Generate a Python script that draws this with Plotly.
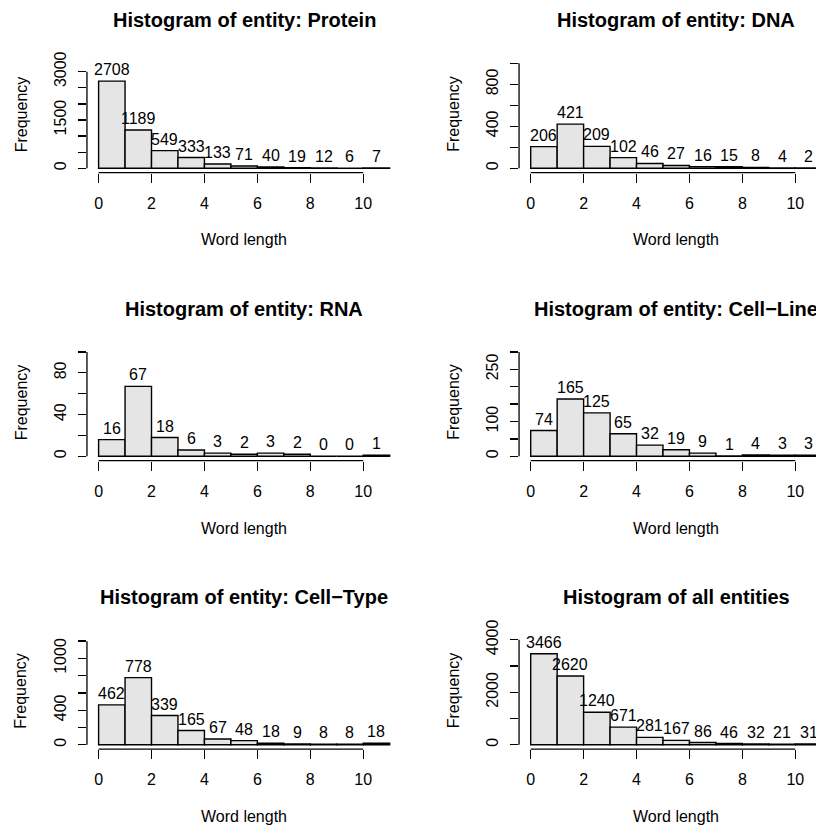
import plotly.graph_objects as go

# ---------------- data ----------------
bin_centers = [0.5, 1.5, 2.5, 3.5, 4.5, 5.5, 6.5, 7.5, 8.5, 9.5, 10.5]
x_tick_vals = [0, 2, 4, 6, 8, 10]
x_tick_text = ["0", "2", "4", "6", "8", "10"]

titles = [
    "Histogram of entity: Protein",
    "Histogram of entity: DNA",
    "Histogram of entity: RNA",
    "Histogram of entity: Cell\u2212Line",
    "Histogram of entity: Cell\u2212Type",
    "Histogram of all entities",
]

counts_protein = [2708, 1189, 549, 333, 133, 71, 40, 19, 12, 6, 7]
counts_dna = [206, 421, 209, 102, 46, 27, 16, 15, 8, 4, 2]
counts_rna = [16, 67, 18, 6, 3, 2, 3, 2, 0, 0, 1]
counts_cell_line = [74, 165, 125, 65, 32, 19, 9, 1, 4, 3, 3]
counts_cell_type = [462, 778, 339, 165, 67, 48, 18, 9, 8, 8, 18]
counts_all = [3466, 2620, 1240, 671, 281, 167, 86, 46, 32, 21, 31]
all_counts = [counts_protein, counts_dna, counts_rna, counts_cell_line, counts_cell_type, counts_all]

y_tick_vals = [
    [0, 500, 1000, 1500, 2000, 2500, 3000],
    [0, 200, 400, 600, 800, 1000],
    [0, 20, 40, 60, 80, 100],
    [0, 50, 100, 150, 200, 250, 300],
    [0, 200, 400, 600, 800, 1000, 1200],
    [0, 1000, 2000, 3000, 4000],
]
y_tick_text = [
    ["0", "", "", "1500", "", "", "3000"],
    ["0", "", "400", "", "800", ""],
    ["0", "", "40", "", "80", ""],
    ["0", "", "100", "", "", "250", ""],
    ["0", "", "400", "", "", "1000", ""],
    ["0", "", "2000", "", "4000"],
]
# upper y limit of each panel (R ylim[2])
ylim_top = [3354, 1029, 103.5, 310.6, 1250, 4114]

# ---------------- layout geometry ----------------
W, H = 816, 826
PPU = 26.46                     # pixels per x unit
col_zero_px = [98.6, 530.7]     # pixel x of value 0
row_bottom_px = [172.6, 460.6, 749.1]  # pixel y of plot-region bottom
REGION_H = 116.6
ROW_STEP = 288.5
FONT = "Liberation Sans, Arial, sans-serif"
BASE = 16

fig = go.Figure()
layout = dict(
    width=W, height=H, autosize=False,
    margin=dict(l=0, r=0, t=0, b=0, pad=0, autoexpand=False),
    paper_bgcolor="white", plot_bgcolor="white",
    showlegend=False,
    font=dict(family=FONT, size=BASE, color="black"),
    shapes=[], annotations=[],
)

for i in range(6):
    r, c = divmod(i, 2)
    n = i + 1
    xs = "" if n == 1 else str(n)
    z = col_zero_px[c]
    left_px = z - 0.44 * PPU
    right_px = min(z + 11.44 * PPU, W)
    xr = [-0.44, (right_px - z) / PPU]
    bot_px = row_bottom_px[r]
    top_px = bot_px - REGION_H
    yt = ylim_top[i]
    yr = [-0.04 * yt, 1.04 * yt]

    fig.add_trace(go.Bar(
        x=bin_centers, y=all_counts[i], width=1,
        marker=dict(color="#E5E5E5", line=dict(color="black", width=1.4)),
        xaxis="x" + xs, yaxis="y" + xs, hoverinfo="skip",
    ))

    layout["xaxis" + xs] = dict(
        domain=[left_px / W, right_px / W], range=xr, anchor="y" + xs,
        showgrid=False, zeroline=False, showline=False, automargin=False,
        ticks="outside", ticklen=9, tickwidth=1.3, tickcolor="black",
        tickvals=x_tick_vals, ticktext=x_tick_text,
        tickfont=dict(size=BASE, family=FONT, color="black"),
        ticklabelstandoff=7, fixedrange=True,
    )
    layout["yaxis" + xs] = dict(
        domain=[1 - bot_px / H, 1 - top_px / H], range=yr, anchor="x" + xs,
        showgrid=False, zeroline=False, showline=False, automargin=False,
        ticks="outside", ticklen=8, tickwidth=1.3, tickcolor="black",
        tickvals=y_tick_vals[i], ticktext=y_tick_text[i], tickangle=-90,
        tickfont=dict(size=BASE, family=FONT, color="black"),
        ticklabelstandoff=6, fixedrange=True,
    )

    # R-style axis lines spanning first to last tick
    layout["shapes"].append(dict(
        type="line", xref="x" + xs + " domain", yref="y" + xs,
        x0=0, x1=0, y0=y_tick_vals[i][0], y1=y_tick_vals[i][-1],
        line=dict(color="black", width=1.3),
    ))
    layout["shapes"].append(dict(
        type="line", xref="x" + xs, yref="y" + xs + " domain",
        x0=x_tick_vals[0], x1=x_tick_vals[-1], y0=0, y1=0,
        line=dict(color="black", width=1.3),
    ))

    # count labels above bars
    for xc, cnt in zip(bin_centers, all_counts[i]):
        layout["annotations"].append(dict(
            x=xc, y=cnt, xref="x" + xs, yref="y" + xs,
            text=str(cnt), showarrow=False, yanchor="bottom", yshift=1,
            font=dict(size=BASE, family=FONT, color="black"),
        ))

    cx = (left_px + z + 11.44 * PPU) / 2  # centre of full plot region
    # title
    layout["annotations"].append(dict(
        x=cx / W, y=1 - (20.3 + r * ROW_STEP) / H, xref="paper", yref="paper",
        text="<b>" + titles[i] + "</b>", showarrow=False,
        xanchor="center", yanchor="middle",
        font=dict(size=20, family=FONT, color="black"),
    ))
    # x label
    layout["annotations"].append(dict(
        x=cx / W, y=1 - (239.7 + r * ROW_STEP) / H, xref="paper", yref="paper",
        text="Word length", showarrow=False, xanchor="center", yanchor="middle",
        font=dict(size=BASE, family=FONT, color="black"),
    ))
    # y label
    layout["annotations"].append(dict(
        x=(21 + c * 432.5) / W, y=1 - (bot_px - REGION_H / 2) / H,
        xref="paper", yref="paper",
        text="Frequency", showarrow=False, textangle=-90,
        xanchor="center", yanchor="middle",
        font=dict(size=BASE, family=FONT, color="black"),
    ))

fig.update_layout(**layout)
fig.write_html(
    "out.html",
    config={"displayModeBar": False, "staticPlot": True},
    post_script="document.body.style.margin='0';document.body.style.overflow='hidden';",
)
